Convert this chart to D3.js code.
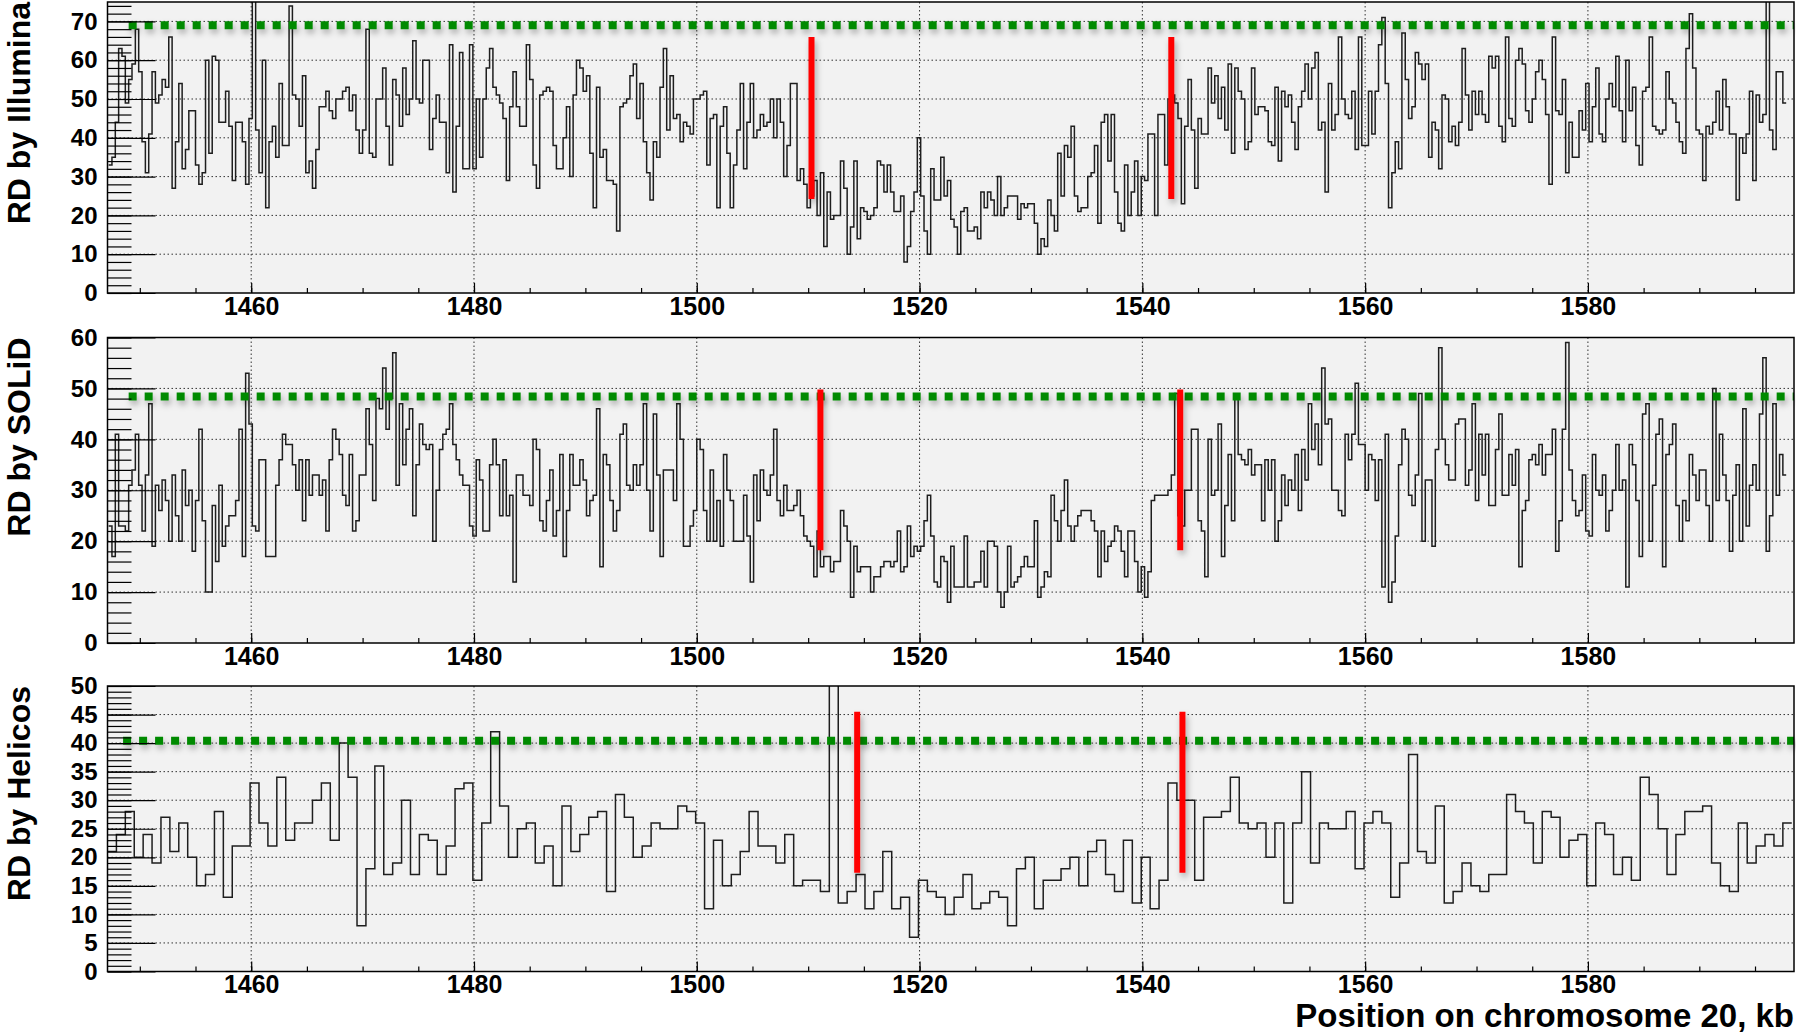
<!DOCTYPE html>
<html>
<head>
<meta charset="utf-8">
<script src="https://cdn.jsdelivr.net/npm/d3@7"></script>
<style>
    body { margin: 0; background: #fff; }
    svg { display: block; font-family: "Liberation Sans", Arial, Helvetica, sans-serif; }
</style>
</head>
<body>
<svg id="chart" width="1796" height="1033"></svg>
<script>
// read depth per bin (Illumina / SOLiD bins 0.3 kb, Helicos 0.8 kb)
var illumina = [
    33,35,44,63,61,49,55,59,68,57,39,31,41,57,49,51,55,53,66,27,39,54,32,37,47,47,
    33,28,31,60,36,61,60,44,44,52,43,29,44,44,39,28,45,80,42,31,60,22,39,43,35,54,38,38,
    74,51,50,43,56,31,34,27,37,48,48,52,47,45,50,50,52,53,47,51,42,36,42,68,36,35,
    50,50,58,43,33,55,51,43,58,46,50,65,50,49,60,60,37,45,51,44,44,31,64,26,43,62,
    32,32,64,32,50,35,50,58,63,53,51,49,45,29,48,57,48,43,43,64,55,33,27,
    51,52,53,52,38,32,32,40,48,30,51,60,58,52,56,36,22,53,35,37,29,29,
    28,16,48,49,50,56,59,45,54,39,31,24,39,35,53,63,42,56,45,46,39,44,43,41,
    50,50,51,52,33,45,46,22,43,48,36,22,33,42,54,32,44,54,40,42,46,43,44,50,40,50,
    44,30,38,54,54,29,32,28,22,25,
    29,20,31,12,26,19,20,20,34,27,10,17,34,14,22,21,19,20,22,34,
    33,26,33,26,21,21,25,8,12,21,26,40,25,16,10,32,24,24,35,25,
    29,19,17,10,21,22,16,16,17,14,26,22,26,24,20,30,20,22,25,25,
    25,19,23,22,23,23,18,10,14,12,24,20,16,36,25,38,35,43,25,21,
    22,22,30,31,38,18,44,46,34,46,26,18,16,33,20,26,34,20,30,29,
    41,41,20,46,46,33,50,51,49,45,23,43,55,42,27,45,41,41,58,49,
    56,45,53,42,59,36,58,52,50,37,39,58,46,48,48,47,39,38,53,34,52,
    48,51,44,37,48,52,59,50,58,62,42,44,26,54,42,46,66,50,46,45,
    52,37,66,38,38,52,41,52,64,71,54,22,31,39,32,67,55,45,48,62,
    59,55,59,35,44,42,32,51,50,39,43,38,44,63,51,42,52,46,52,46,
    44,61,58,61,43,39,66,45,43,60,63,59,47,44,50,57,60,55,46,28,
    66,47,46,55,31,44,35,35,47,42,54,39,48,58,41,39,50,54,48,61,
    47,39,60,47,53,38,33,52,53,66,43,42,41,42,57,50,49,44,39,36,
    63,72,58,42,41,29,43,41,44,52,42,55,48,41,41,24,40,36,41,52,
    29,51,44,46,80,42,37,57,57,49
];

var solid = [
    23,17,41,23,23,22,31,34,41,31,22,33,47,19,31,26,32,28,20,33,
    25,20,34,27,30,18,28,42,24,10,10,27,16,31,19,23,25,25,28,42,17,
    53,43,23,22,36,36,17,17,17,31,36,41,39,39,35,30,36,24,36,29,33,33,
    29,32,22,36,42,40,37,29,27,37,22,24,33,33,46,39,28,48,46,54,42,
    48,57,31,47,35,42,46,25,35,43,39,38,39,20,30,38,41,42,47,39,
    36,33,31,31,23,21,36,32,22,22,35,40,35,25,36,25,29,12,33,33,29,
    29,27,40,38,24,22,28,34,21,26,37,17,26,37,31,31,36,32,25,28,
    29,46,15,37,35,28,22,26,41,43,31,30,35,31,35,47,30,22,45,33,
    17,34,34,34,28,47,40,19,19,23,26,40,
    38,26,20,34,20,28,19,37,30,28,20,20,20,29,21,12,33,24,34,30,
    29,33,42,28,25,31,26,26,27,30,25,21,20,19,
    13,22,15,17,17,14,16,16,26,23,20,9,19,14,15,15,15,10,13,13,
    15,16,16,15,16,22,14,15,23,17,19,18,19,24,29,21,12,11,17,16,
    8,19,11,11,11,21,11,11,12,12,18,11,20,20,19,10,7,10,19,11,12,13,
    15,17,15,15,24,9,11,14,13,29,24,20,26,32,23,20,23,25,26,26,
    26,24,22,13,22,16,19,20,23,22,18,13,22,22,16,10,15,9,14,28,
    29,29,29,29,30,33,49,25,23,30,30,42,42,24,22,13,40,29,30,43,17,27,37,24,
    48,37,36,35,38,33,35,35,24,36,30,36,20,
    24,33,27,32,30,37,26,38,32,47,38,43,35,54,43,44,30,30,26,25,
    41,36,41,51,39,39,30,37,36,28,36,11,41,8,12,21,35,42,
    40,29,27,33,49,20,32,32,19,38,58,40,35,32,32,43,44,44,31,34,
    47,28,41,33,41,27,27,38,45,29,29,37,31,38,15,26,28,36,37,
    35,39,33,37,37,42,18,24,42,59,34,28,25,26,33,22,21,37,30,
    29,33,22,26,30,39,30,32,11,39,35,28,17,45,47,20,31,41,44,15,
    37,39,43,27,20,28,24,37,33,28,34,34,27,20,50,28,41,33,28,18,
    29,35,20,46,23,31,35,30,45,56,18,25,47,29,37,33
];

var helicos = [
    21,24,28,20,24,19,27,21,26,20,15,17,28,13,22,22,33,26,22,34,
    23,26,26,30,33,23,40,34,8,18,36,17,19,30,17,24,23,17,22,32,
    33,16,26,42,29,20,25,26,19,22,15,29,21,24,27,28,14,31,27,20,
    22,26,25,25,29,28,26,11,23,15,17,21,28,22,22,19,24,15,16,16,
    14,55,12,14,17,11,14,21,11,13,6,16,14,13,
    10,13,17,11,12,14,13,8,18,20,11,16,16,18,20,15,21,23,17,14,
    23,12,20,11,16,33,30,30,16,27,27,28,34,26,25,26,20,26,12,26,
    35,19,26,25,25,28,18,26,28,26,13,19,38,21,19,29,12,14,19,15,
    14,17,17,31,28,26,19,28,27,20,23,24,15,26,24,17,20,16,34,31,
    25,17,24,28,28,29,19,15,14,26,19,22,24,22,26
];

var binStart = [1447.2, 1447.2, 1447.1];
var binWidth = [0.3, 0.3, 0.8];
var xTicks = [1460, 1480, 1500, 1520, 1540, 1560, 1580];
var titles = ['RD by Illumina', 'RD by SOLiD', 'RD by Helicos'];
var meanLevel = [69, 48.4, 40.4];
var meanFrom = [1449, 1449, 1448.5];
var breakpoints = [[1510.3, 1542.6], [1511.1, 1543.4], [1514.4, 1543.6]];
var breakRange = [[24.2, 66], [18.2, 49.8], [17.3, 45.5]];
var yMax = [75, 60, 50];
var yStep = [10, 10, 5];
var yMinorStep = [2, 2, 1];

// layout of the three pads
var layout = [
    {top: 2, bottom: 293},
    {top: 337.5, bottom: 643},
    {top: 686, bottom: 971.5}
];

var svg = d3.select('#chart');
var left = 107.5, right = 1794;
var x = d3.scaleLinear().domain([1447.1, 1598.5]).range([left, right]);

var defs = svg.append('defs');
var shadow = defs.append('filter').attr('id', 'shadow')
    .attr('filterUnits', 'userSpaceOnUse')
    .attr('x', 0).attr('y', 0).attr('width', 1796).attr('height', 1033);
shadow.append('feDropShadow')
    .attr('dx', 2).attr('dy', 4).attr('stdDeviation', 3)
    .attr('flood-color', '#000').attr('flood-opacity', 0.3);

function drawPanel(i, values) {
    var top = layout[i].top, bottom = layout[i].bottom;
    var y = d3.scaleLinear().domain([0, yMax[i]]).range([bottom, top]);
    var g = svg.append('g');

    g.append('rect')
        .attr('x', left).attr('y', top)
        .attr('width', right - left).attr('height', bottom - top)
        .attr('fill', '#f2f2f2');

    // dotted grid
    var yGrid = d3.range(yStep[i], yMax[i], yStep[i]);
    g.selectAll('.ygrid').data(yGrid).enter().append('line')
        .attr('x1', left).attr('x2', right)
        .attr('y1', function (d) { return y(d); }).attr('y2', function (d) { return y(d); })
        .attr('stroke', '#333').attr('stroke-width', 1).attr('stroke-dasharray', '1.5,2.5');
    g.selectAll('.xgrid').data(xTicks).enter().append('line')
        .attr('x1', function (d) { return x(d); }).attr('x2', function (d) { return x(d); })
        .attr('y1', top).attr('y2', bottom)
        .attr('stroke', '#333').attr('stroke-width', 1).attr('stroke-dasharray', '1.5,2.5');

    defs.append('clipPath').attr('id', 'clip' + i).append('rect')
        .attr('x', left).attr('y', top)
        .attr('width', right - left).attr('height', bottom - top);

    // histogram as steps
    var pts = values.map(function (v, k) { return [binStart[i] + k * binWidth[i], v]; });
    pts.push([binStart[i] + values.length * binWidth[i], values[values.length - 1]]);
    var line = d3.line()
        .x(function (d) { return x(d[0]); })
        .y(function (d) { return y(d[1]); })
        .curve(d3.curveStepAfter);
    g.append('path').attr('d', line(pts))
        .attr('clip-path', 'url(#clip' + i + ')')
        .attr('fill', 'none').attr('stroke', '#1e1e1e').attr('stroke-width', 1.5);

    // mean level
    g.append('line')
        .attr('x1', x(meanFrom[i])).attr('x2', right)
        .attr('y1', y(meanLevel[i])).attr('y2', y(meanLevel[i]))
        .attr('stroke', '#008a00').attr('stroke-width', 8)
        .attr('stroke-dasharray', '8,8')
        .attr('filter', 'url(#shadow)');

    // breakpoints
    g.selectAll('.brk').data(breakpoints[i]).enter().append('line')
        .attr('x1', function (d) { return x(d); }).attr('x2', function (d) { return x(d); })
        .attr('y1', y(breakRange[i][0])).attr('y2', y(breakRange[i][1]))
        .attr('stroke', '#ff0000').attr('stroke-width', 6)
        .attr('filter', 'url(#shadow)');

    g.append('rect')
        .attr('x', left).attr('y', top)
        .attr('width', right - left).attr('height', bottom - top)
        .attr('fill', 'none').attr('stroke', '#000').attr('stroke-width', 1.5);

    // axes, ticks pointing inwards
    var yAxis = d3.axisLeft(y).tickValues(d3.range(0, yMax[i] + 0.01, yStep[i]))
        .tickSize(-48).tickPadding(10).tickFormat(d3.format('d'));
    var yMinor = d3.axisLeft(y).tickValues(d3.range(0, yMax[i] + 0.01, yMinorStep[i]))
        .tickSize(-24).tickFormat('');
    var xAxis = d3.axisBottom(x).tickValues(xTicks).tickSize(-10).tickPadding(4)
        .tickFormat(d3.format('d'));
    var xMinor = d3.axisBottom(x).tickValues(d3.range(1450, 1598, 5)).tickSize(-5).tickFormat('');

    [[yMinor, 'left'], [yAxis, 'left'], [xMinor, 'bottom'], [xAxis, 'bottom']].forEach(function (a) {
        var ag = g.append('g')
            .attr('transform', a[1] === 'left' ? 'translate(' + left + ',0)' : 'translate(0,' + bottom + ')')
            .call(a[0]);
        ag.select('.domain').remove();
        ag.selectAll('line').attr('stroke', '#000').attr('stroke-width', 1.2);
        ag.selectAll('text')
            .attr('font-family', '"Liberation Sans", Arial, sans-serif')
            .attr('font-weight', 'bold')
            .attr('font-size', a[1] === 'left' ? 24 : 25)
            .attr('fill', '#000');
    });

    g.append('text')
        .attr('transform', 'translate(30,' + top + ') rotate(-90)')
        .attr('text-anchor', 'end')
        .attr('font-weight', 'bold').attr('font-size', 32)
        .text(titles[i]);
}

drawPanel(0, illumina);
drawPanel(1, solid);
drawPanel(2, helicos);

svg.append('text')
    .attr('x', right).attr('y', 1027)
    .attr('text-anchor', 'end')
    .attr('font-weight', 'bold').attr('font-size', 33)
    .text('Position on chromosome 20, kb');
</script>
</body>
</html>
